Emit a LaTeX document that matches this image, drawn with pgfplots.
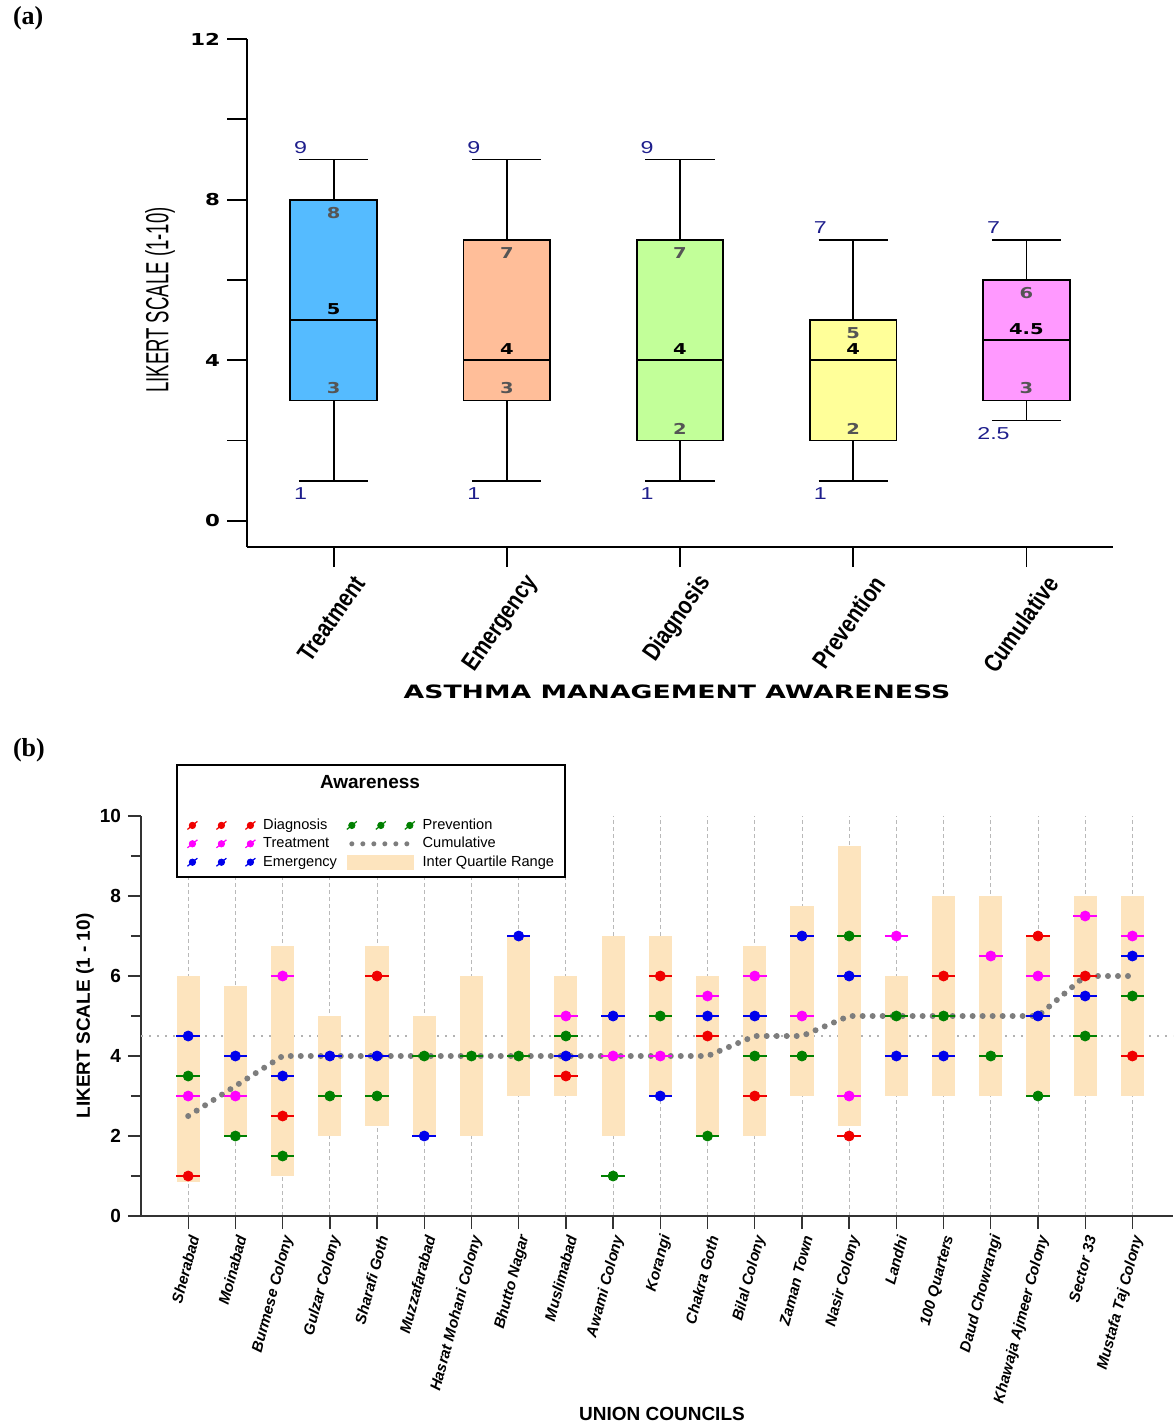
\documentclass[border=0pt]{standalone}
\usepackage{fontspec}
\setmainfont{Liberation Sans}
\newfontfamily\panelfont{Liberation Serif}
\newfontfamily\heavy[FakeStretch=1.3]{DejaVu Sans}
\newfontfamily\titlewide[FakeStretch=1.45]{DejaVu Sans}
\newfontfamily\narrow[FakeStretch=0.58]{Liberation Sans}
\newfontfamily\wide[FakeStretch=1.35]{Liberation Sans}
\newfontfamily\cat[FakeStretch=0.82]{Liberation Sans}
\usepackage{pgfplots}
\usepackage{pgfplotstable}
\pgfplotsset{compat=1.18}
\usepgfplotslibrary{statistics}

\definecolor{cTreat}{RGB}{85,187,255}
\definecolor{cEmer}{RGB}{255,190,153}
\definecolor{cDiag}{RGB}{194,255,153}
\definecolor{cPrev}{RGB}{255,255,153}
\definecolor{cCum}{RGB}{255,153,255}
\definecolor{navy}{RGB}{30,30,140}
\definecolor{midgray}{RGB}{85,85,85}
\definecolor{iqr}{RGB}{253,228,190}
\definecolor{cumgray}{RGB}{125,125,125}
\definecolor{dgreen}{RGB}{0,128,0}
\definecolor{pmag}{RGB}{255,0,255}
\definecolor{pblue}{RGB}{0,0,235}
\definecolor{pred}{RGB}{240,0,0}

% panel (a): label values per category
\pgfplotstableread{
x max min q3 q1 med
1 9 1 8 3 5
2 9 1 7 3 4
3 9 1 7 2 4
4 7 1 5 2 4
5 7 2.5 6 3 4.5
}\labtab

% panel (b): inter quartile range per union council
\pgfplotstableread{
x q1 q3
1 0.85 6
2 2 5.75
3 1 6.75
4 2 5
5 2.25 6.75
6 2 5
7 2 6
8 3 7
9 3 6
10 2 7
11 3 7
12 2 6
13 2 6.75
14 3 7.75
15 2.25 9.25
16 3 6
17 3 8
18 3 8
19 3 7
20 3 8
21 3 8
}\iqrtab

\pgfplotstableread{
x y
1 2.5
2 3.25
3 4
4 4
5 4
6 4
7 4
8 4
9 4
10 4
11 4
12 4
13 4.5
14 4.5
15 5
16 5
17 5
18 5
19 5
20 6
21 6
}\cumtab

\begin{document}
\begin{tikzpicture}
\path[use as bounding box] (0,0) rectangle (586.5pt,-712pt);

\node[anchor=west, font=\panelfont\bfseries\fontsize{13}{13}\selectfont] at (3pt,-9pt) {(a)};
\node[anchor=west, font=\panelfont\bfseries\fontsize{13}{13}\selectfont] at (3pt,-375pt) {(b)};

% ---------------- (a) ----------------
\begin{axis}[
  at={(123.5pt,-273.5pt)}, anchor=south west,
  scale only axis, width=433pt, height=254pt,
  xmin=0.5, xmax=5.5, ymin=-0.65, ymax=12,
  axis x line*=bottom, axis y line*=left,
  axis line style={line width=0.9pt},
  tick align=outside, major tick length=10pt,
  tick style={line width=0.9pt, black},
  xtick={1,...,5},
  xticklabels={Treatment,Emergency,Diagnosis,Prevention,Cumulative},
  xticklabel style={xshift=15pt, yshift=-3pt, rotate=55, anchor=east, font=\cat\bfseries\fontsize{12.5}{12}\selectfont},
  ytick={0,2,4,6,8,10,12},
  yticklabels={0,,4,,8,,12},
  yticklabel style={font=\heavy\bfseries\fontsize{8.2}{9}\selectfont},
  xlabel={ASTHMA MANAGEMENT AWARENESS},
  xlabel style={at={(axis description cs:0.4965,-0.2854)}, anchor=center,
    font=\titlewide\bfseries\fontsize{9.2}{10}\selectfont},
  ylabel={LIKERT SCALE (1-10)},
  ylabel style={at={(axis description cs:-0.1005,0.486)}, anchor=center, rotate=0,
    font=\narrow\fontsize{16}{16}\selectfont},
  boxplot/draw direction=y,
  boxplot/box extend=0.5,
  clip=false,
]
\addplot[boxplot prepared={lower whisker=1, lower quartile=3, median=5, upper quartile=8, upper whisker=9, draw position=1},
  draw=black, line width=0.9pt, fill=cTreat] coordinates {};
\addplot[boxplot prepared={lower whisker=1, lower quartile=3, median=4, upper quartile=7, upper whisker=9, draw position=2},
  draw=black, line width=0.9pt, fill=cEmer] coordinates {};
\addplot[boxplot prepared={lower whisker=1, lower quartile=2, median=4, upper quartile=7, upper whisker=9, draw position=3},
  draw=black, line width=0.9pt, fill=cDiag] coordinates {};
\addplot[boxplot prepared={lower whisker=1, lower quartile=2, median=4, upper quartile=5, upper whisker=7, draw position=4},
  draw=black, line width=0.9pt, fill=cPrev] coordinates {};
\addplot[boxplot prepared={lower whisker=2.5, lower quartile=3, median=4.5, upper quartile=6, upper whisker=7, draw position=5},
  draw=black, line width=0.9pt, fill=cCum] coordinates {};

\addplot[draw=none, mark=none, nodes near coords, point meta=explicit symbolic,
  nodes near coords align=center,
  nodes near coords style={anchor=center, text=navy, font=\wide\fontsize{8.6}{9}\selectfont}]
  table[x expr=\thisrow{x}-0.19, y expr=\thisrow{max}+0.3, meta=max] \labtab;
\addplot[draw=none, mark=none, nodes near coords, point meta=explicit symbolic,
  nodes near coords align=center,
  nodes near coords style={anchor=center, text=navy, font=\wide\fontsize{8.6}{9}\selectfont}]
  table[x expr=\thisrow{x}-0.19, y expr=\thisrow{min}-0.33, meta=min] \labtab;
\addplot[draw=none, mark=none, nodes near coords, point meta=explicit symbolic,
  nodes near coords align=center,
  nodes near coords style={anchor=center, text=midgray, font=\heavy\bfseries\fontsize{7.5}{9}\selectfont}]
  table[x=x, y expr=\thisrow{q3}-0.33, meta=q3] \labtab;
\addplot[draw=none, mark=none, nodes near coords, point meta=explicit symbolic,
  nodes near coords align=center,
  nodes near coords style={anchor=center, text=midgray, font=\heavy\bfseries\fontsize{7.5}{9}\selectfont}]
  table[x=x, y expr=\thisrow{q1}+0.3, meta=q1] \labtab;
\addplot[draw=none, mark=none, nodes near coords, point meta=explicit symbolic,
  nodes near coords align=center,
  nodes near coords style={anchor=center, text=black, font=\heavy\bfseries\fontsize{7.5}{9}\selectfont}]
  table[x=x, y expr=\thisrow{med}+0.27, meta=med] \labtab;
\end{axis}

% ---------------- (b) ----------------
\begin{axis}[
  at={(70.5pt,-608pt)}, anchor=south west,
  scale only axis, width=516pt, height=200pt,
  xmin=0, xmax=21.86, ymin=0, ymax=10,
  axis x line*=bottom, axis y line*=left,
  axis line style={line width=0.7pt, black!80},
  tick align=outside, major tick length=6.5pt, minor tick length=5pt,
  tick style={line width=0.7pt, black!80},
  xtick={1,...,21},
  xticklabels={Sherabad,Moinabad,Burmese Colony,Gulzar Colony,Sharafi Goth,Muzzafarabad,Hasrat Mohani Colony,Bhutto Nagar,Muslimabad,Awami Colony,Korangi,Chakra Goth,Bilal Colony,Zaman Town,Nasir Colony,Landhi,100 Quarters,Daud Chowrangi,Khawaja Ajmeer Colony,Sector 33,Mustafa Taj Colony},
  xticklabel style={xshift=4pt, rotate=75, anchor=east, font=\bfseries\itshape\fontsize{7.6}{8}\selectfont},
  ytick={0,2,...,10}, minor ytick={1,3,...,9},
  yticklabel style={font=\bfseries\fontsize{9.5}{10}\selectfont},
  /pgf/number format/assume math mode=true,
  xmajorgrids,
  major x grid style={dash pattern=on 2pt off 1.5pt, gray!55, line width=0.4pt},
  xlabel={UNION COUNCILS},
  xlabel style={at={(axis description cs:0.5048,-0.495)}, anchor=center,
    font=\bfseries\fontsize{9.5}{10}\selectfont},
  ylabel={LIKERT SCALE (1 - 10)},
  ylabel style={at={(axis description cs:-0.0543,0.5)}, anchor=center,
    font=\bfseries\fontsize{9.5}{10}\selectfont},
  clip=false,
  legend columns=2,
  legend style={at={(axis description cs:0.044,0.9975)}, anchor=north west,
    draw=none, fill=none, inner sep=0pt, row sep=1.2pt,
    nodes={inner sep=0.6pt, text height=5.4pt, text depth=1.4pt},
    font=\fontsize{7.3}{8}\selectfont,
    /tikz/every odd column/.append style={column sep=3pt},
    /tikz/every even column/.append style={column sep=4pt}},
  legend cell align=left,
]
% reference line
\addplot[forget plot, gray!60, line width=1pt, dash pattern=on 1.2pt off 2.8pt]
  coordinates {(0,4.5) (21.86,4.5)};
% inter quartile range bars
\addplot[forget plot, draw=none, mark=none,
  error bars/.cd, y dir=both, y explicit, error mark=none,
  error bar style={line width=11.6pt, draw=iqr}]
  table[x=x, y expr=(\thisrow{q1}+\thisrow{q3})/2, y error expr=(\thisrow{q3}-\thisrow{q1})/2] \iqrtab;
% cumulative
\addplot[forget plot, cumgray, line width=3pt, line cap=round, dash pattern=on 0pt off 5pt]
  table[x=x, y=y] \cumtab;
% prevention
\addplot[forget plot, only marks, mark=*, mark size=2.5pt, dgreen,
  error bars/.cd, x dir=both, x fixed=0.25, error mark=none, error bar style={line width=0.9pt, dgreen}]
  coordinates {(1,3.5) (2,2) (3,1.5) (4,3) (5,3) (6,4) (7,4) (8,4) (9,4.5) (10,1) (11,5) (12,2)
  (13,4) (14,4) (15,7) (16,5) (17,5) (18,4) (19,3) (20,4.5) (21,5.5)};
% emergency
\addplot[forget plot, only marks, mark=*, mark size=2.5pt, pblue,
  error bars/.cd, x dir=both, x fixed=0.25, error mark=none, error bar style={line width=0.9pt, pblue}]
  coordinates {(1,4.5) (2,4) (3,3.5) (4,4) (5,4) (6,2) (8,7) (9,4) (10,5) (11,3) (12,5) (13,5)
  (14,7) (15,6) (16,4) (17,4) (19,5) (20,5.5) (21,6.5)};
% treatment
\addplot[forget plot, only marks, mark=*, mark size=2.5pt, pmag,
  error bars/.cd, x dir=both, x fixed=0.25, error mark=none, error bar style={line width=0.9pt, pmag}]
  coordinates {(1,3) (2,3) (3,6) (9,5) (10,4) (11,4) (12,5.5) (13,6) (14,5) (15,3) (16,7)
  (18,6.5) (19,6) (20,7.5) (21,7)};
% diagnosis
\addplot[forget plot, only marks, mark=*, mark size=2.5pt, pred,
  error bars/.cd, x dir=both, x fixed=0.25, error mark=none, error bar style={line width=0.9pt, pred}]
  coordinates {(1,1) (3,2.5) (5,6) (9,3.5) (11,6) (12,4.5) (13,3) (15,2) (17,6) (19,7) (20,6) (21,4)};

% legend frame and title
\draw[fill=white, line width=0.6pt] (axis description cs:0.0349,0.8475) rectangle (axis description cs:0.4109,1.1275);
\node[font=\bfseries\fontsize{9.5}{10}\selectfont] at (axis description cs:0.2219,1.085) {Awareness};

\addlegendimage{legend image code/.code={\foreach \i in {0,1,2}{
  \draw[pred, line width=0.6pt] (\i*14.5pt-2.5pt,-2pt) -- (\i*14.5pt+2.5pt,2pt);
  \fill[pred] (\i*14.5pt,0pt) circle (1.6pt);}}}
\addlegendentry{Diagnosis}
\addlegendimage{legend image code/.code={\foreach \i in {0,1,2}{
  \draw[dgreen, line width=0.6pt] (\i*14.5pt-2.5pt,-2pt) -- (\i*14.5pt+2.5pt,2pt);
  \fill[dgreen] (\i*14.5pt,0pt) circle (1.6pt);}}}
\addlegendentry{Prevention}
\addlegendimage{legend image code/.code={\foreach \i in {0,1,2}{
  \draw[pmag, line width=0.6pt] (\i*14.5pt-2.5pt,-2pt) -- (\i*14.5pt+2.5pt,2pt);
  \fill[pmag] (\i*14.5pt,0pt) circle (1.6pt);}}}
\addlegendentry{Treatment}
\addlegendimage{legend image code/.code={
  \draw[cumgray, line width=2.5pt, line cap=round, dash pattern=on 0pt off 5.5pt] (0pt,0pt) -- (28pt,0pt);}}
\addlegendentry{Cumulative}
\addlegendimage{legend image code/.code={\foreach \i in {0,1,2}{
  \draw[pblue, line width=0.6pt] (\i*14.5pt-2.5pt,-2pt) -- (\i*14.5pt+2.5pt,2pt);
  \fill[pblue] (\i*14.5pt,0pt) circle (1.6pt);}}}
\addlegendentry{Emergency}
\addlegendimage{legend image code/.code={
  \fill[iqr] (-2pt,-3.5pt) rectangle (31pt,3.5pt);}}
\addlegendentry{Inter Quartile Range}
\end{axis}
\end{tikzpicture}
\end{document}
